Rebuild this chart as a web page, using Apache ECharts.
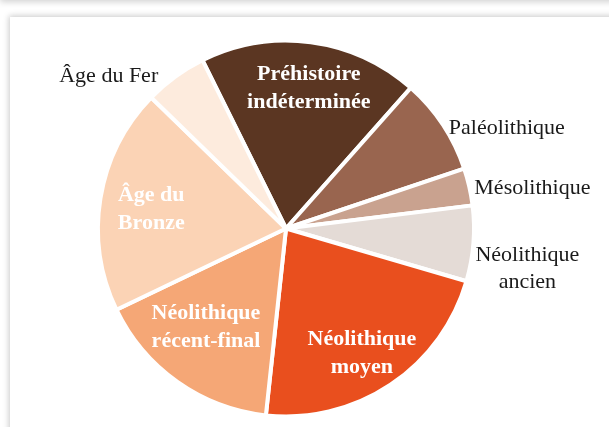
<!DOCTYPE html>
<html>
<head>
<meta charset="utf-8">
<script src="https://cdn.jsdelivr.net/npm/echarts@6/dist/echarts.min.js"></script>
<style>
  html, body { margin: 0; padding: 0; background: #ffffff; }
  body { width: 609px; height: 427px; position: relative; overflow: hidden; }
  #topshade { position: absolute; left: 0; top: -20px; width: 640px; height: 20px; box-shadow: 0 2px 6px rgba(0,0,0,0.18); background: #fff; }
  #card { position: absolute; left: 10px; top: 17px; width: 640px; height: 440px; background: #fff; box-shadow: 0 0 6px 1px rgba(0,0,0,0.22); }
  #chart { position: absolute; left: 0; top: 0; width: 609px; height: 427px; }
</style>
</head>
<body>
<div id="topshade"></div>
<div id="card"></div>
<div id="chart"></div>
<script>
// Periods, clockwise from the top
const periods = [
  'Préhistoire\nindéterminée',
  'Paléolithique',
  'Mésolithique',
  'Néolithique\nancien',
  'Néolithique\nmoyen',
  'Néolithique\nrécent-final',
  'Âge du\nBronze',
  'Âge du Fer'
];
// Share of sites per period (%)
const shares = [18.9, 8.3, 3.2, 6.5, 22.2, 16.2, 19.4, 5.4];

const colors = ['#5b3622', '#99654f', '#c9a28f', '#e4dbd6', '#e94f1e', '#f5a776', '#fbd3b5', '#fdebdd'];
// which labels sit inside their slice
const inside = [true, false, false, false, true, true, true, false];
// hand-tuned label offsets [dx, dy] and alignment from the default pie placement
const labelNudge = [[10, -44], [1, 3], [0, 1], [49, 25], [22, 44], [-24, 20], [-39, -4], [-12, 0]];
const labelAlign = [null, null, null, 'center', null, null, null, null];

const chart = echarts.init(document.getElementById('chart'), null, { renderer: 'canvas' });

const data = periods.map((name, i) => ({
  name: name,
  value: shares[i],
  itemStyle: { color: colors[i] },
  label: inside[i]
    ? { position: 'inside', color: '#ffffff', fontWeight: 'bold', lineHeight: 28 }
    : { position: 'outside', color: '#1a1a1a', fontWeight: 'normal', lineHeight: 27 }
}));

chart.setOption({
  animation: false,
  backgroundColor: 'transparent',
  series: [{
    type: 'pie',
    center: [286, 228.5],
    radius: [0, 188],
    startAngle: 116.4,
    clockwise: true,
    avoidLabelOverlap: false,
    itemStyle: { borderColor: '#ffffff', borderWidth: 4 },
    label: {
      show: true,
      fontFamily: '"Liberation Serif", "Times New Roman", serif',
      fontSize: 22,
      formatter: '{b}',
      distanceToLabelLine: 5
    },
    labelLine: { show: false, length: 0, length2: 0 },
    labelLayout: function (p) {
      const n = labelNudge[p.dataIndex];
      const out = { dx: n[0], dy: n[1] };
      if (labelAlign[p.dataIndex]) out.align = labelAlign[p.dataIndex];
      return out;
    },
    emphasis: { disabled: true },
    data: data
  }]
});
</script>
</body>
</html>
